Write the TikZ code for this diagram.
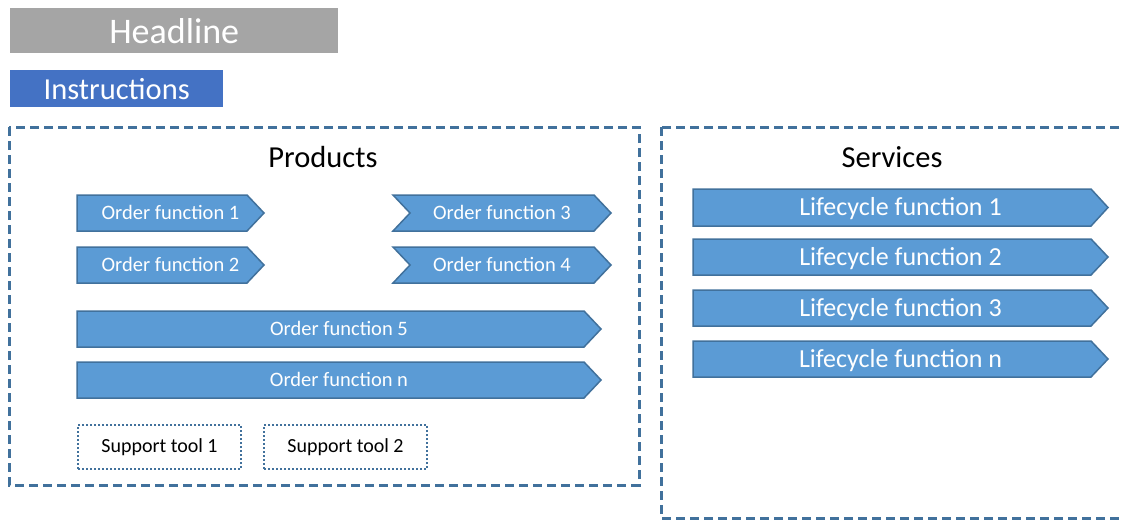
\documentclass[tikz,border=0pt]{standalone}
\usepackage{fontspec}
\setmainfont{Carlito}
\definecolor{arrowfill}{HTML}{5B9BD5}
\definecolor{arrowline}{HTML}{41719C}
\definecolor{headgray}{HTML}{A5A5A5}
\definecolor{instrblue}{HTML}{4472C4}
\tikzset{
  arrowshape/.style={fill=arrowfill, draw=arrowline, line width=1.5pt, line join=miter},
  arrowtext/.style={text=white, inner sep=0pt, anchor=base},
  groupbox/.style={draw=arrowline, line width=3pt, dash pattern=on 9pt off 5pt},
  toolbox/.style={draw=arrowline, line width=2pt, dash pattern=on 2pt off 2pt, minimum width=163pt, minimum height=44pt, inner sep=0pt, font=\fontsize{20}{22}\selectfont},
}
% #1 name, #2 left x, #3 tip x, #4 top y, #5 bottom y, #6 notch depth, #7 label, #8 font size
% the label's capitals are centred on the arrow's mid line
\newcommand{\flowarrow}[8]{%
  \draw[arrowshape] (#2,#4) -- ({#3-17},#4) -- (#3,{(#4+#5)/2}) -- ({#3-17},#5) -- (#2,#5) -- ({#2+#6},{(#4+#5)/2}) -- cycle;
  \node[arrowtext, font=\fontsize{#8}{#8}\selectfont, yshift={-0.322*#8pt}] (#1) at ({(#2+#3)/2},{(#4+#5)/2}) {#7};
}
\begin{document}
\begin{tikzpicture}[x=1pt,y=-1pt]
\clip (0,0) rectangle (1123,520);
\fill[white] (0,0) rectangle (1123,520);

% title bars
\node[fill=headgray, minimum width=328pt, minimum height=45pt, inner sep=0pt, text=white,
      font=\fontsize{36}{38}\selectfont, anchor=north west] (headline) at (10,8) {Headline};
\node[fill=instrblue, minimum width=213pt, minimum height=37pt, inner sep=0pt, text=white,
      font=\fontsize{30.5}{32}\selectfont, anchor=north west] (instructions) at (10,70) {Instructions};

% group frames
\draw[groupbox] (9,127) rectangle (639,485);
\draw[groupbox] (661,127) rectangle (1150,518);
\node[font=\fontsize{30.5}{32}\selectfont] (products) at (323,157) {Products};
\node[font=\fontsize{30.5}{32}\selectfont] (services) at (892,157) {Services};

% products
\flowarrow{of1}{77}{264}{195}{231}{0}{Order function 1}{20.5}
\flowarrow{of2}{77}{264}{247}{283}{0}{Order function 2}{20.5}
\flowarrow{of3}{393}{611}{195}{231}{17}{Order function 3}{20.5}
\flowarrow{of4}{393}{611}{247}{283}{17}{Order function 4}{20.5}
\flowarrow{of5}{77}{601}{311}{347}{0}{Order function 5}{20.5}
\flowarrow{ofn}{77}{601}{362}{398}{0}{Order function n}{20.5}

\node[toolbox, anchor=north west] (st1) at (77,424) {Support tool 1};
\node[toolbox, anchor=north west] (st2) at (263,424) {Support tool 2};

% services
\flowarrow{lf1}{693}{1108}{189}{226}{0}{Lifecycle function 1}{26}
\flowarrow{lf2}{693}{1108}{239}{275}{0}{Lifecycle function 2}{26}
\flowarrow{lf3}{693}{1108}{290}{326}{0}{Lifecycle function 3}{26}
\flowarrow{lfn}{693}{1108}{341}{377}{0}{Lifecycle function n}{26}
\end{tikzpicture}
\end{document}
